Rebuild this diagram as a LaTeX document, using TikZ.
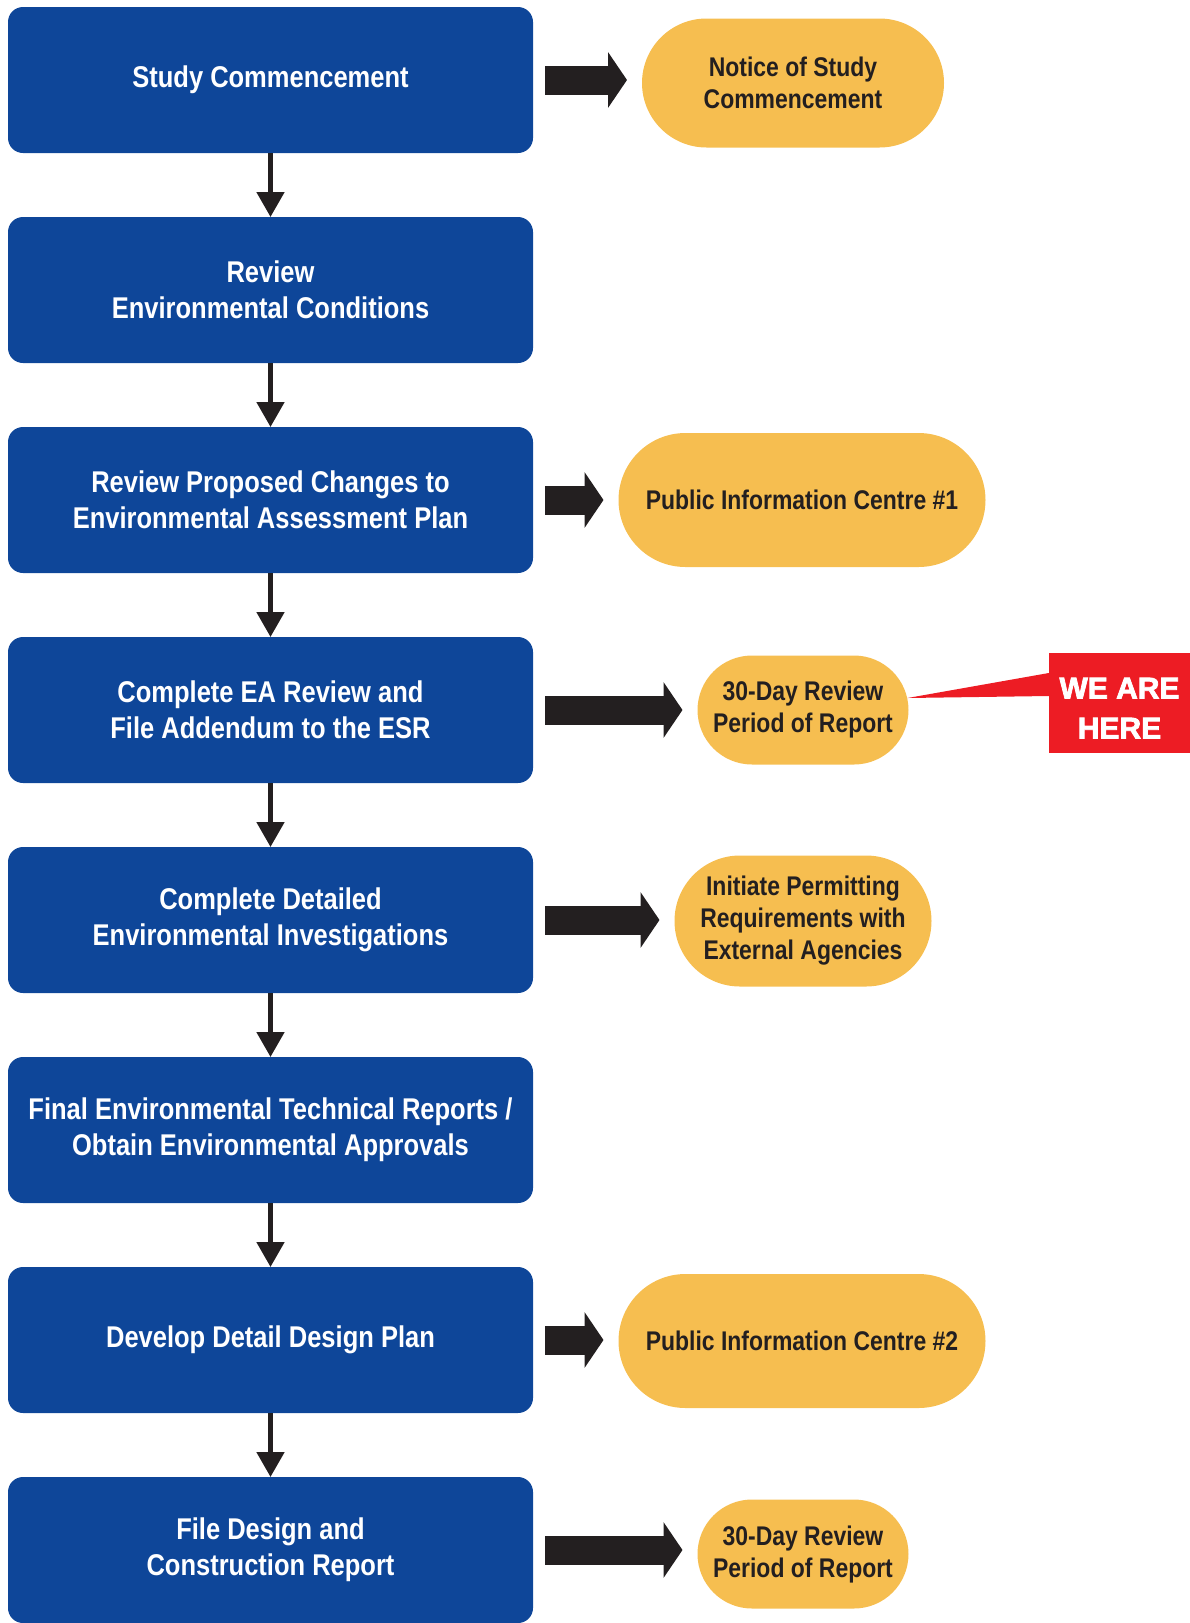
\documentclass[tikz,border=0pt]{standalone}
\usepackage{fontspec}
\setmainfont{Liberation Sans}[FakeStretch=0.85]
\newfontfamily\tagfont{Liberation Sans}[UprightFont={* Bold},FakeBold=2.5]
\usepackage{tikz}
\usetikzlibrary{arrows.meta,positioning,shapes.misc}
\definecolor{bluex}{HTML}{0E4699}
\definecolor{goldx}{HTML}{F6BE50}
\definecolor{inkx}{HTML}{231F20}
\definecolor{redx}{HTML}{ED1C24}
\tikzset{
  stepbox/.style={fill=bluex,rounded corners=15pt,minimum width=525pt,minimum height=146pt,align=center,text=white,outer sep=0pt,font=\fontsize{30}{36}\selectfont\bfseries},
  pill/.style={rounded rectangle,fill=goldx,align=center,text=inkx,inner sep=0pt,outer sep=0pt,font=\fontsize{27}{32}\selectfont\bfseries},
  dn/.style={-{Triangle[length=25pt,width=27pt]},line width=5pt,inkx},
  blk/.style={-{Triangle[length=19pt,width=55pt]},line width=29pt,inkx,shorten <=12pt,shorten >=15pt},
  tagbox/.style={fill=redx,text=white,align=center,minimum width=141pt,minimum height=100pt,inner sep=0pt,font=\tagfont\fontsize{30}{40}\selectfont}
}

\begin{document}
\begin{tikzpicture}[x=1pt,y=-1pt]
\useasboundingbox (0,0) rectangle (1190,1623);
% steps
\node[stepbox] (s1) at (270.5,80) {Study Commencement};
\node[stepbox] (s2) at (270.5,290) {Review\\Environmental Conditions};
\node[stepbox] (s3) at (270.5,500) {Review Proposed Changes to\\Environmental Assessment Plan};
\node[stepbox] (s4) at (270.5,710) {Complete EA Review and\\File Addendum to the ESR};
\node[stepbox] (s5) at (270.5,920) {Complete Detailed\\Environmental Investigations};
\node[stepbox] (s6) at (270.5,1130) {Final Environmental Technical Reports /\\Obtain Environmental Approvals};
\node[stepbox] (s7) at (270.5,1340) {Develop Detail Design Plan};
\node[stepbox] (s8) at (270.5,1550) {File Design and\\Construction Report};
\draw[dn] (s1) -- (s2);
\draw[dn] (s2) -- (s3);
\draw[dn] (s3) -- (s4);
\draw[dn] (s4) -- (s5);
\draw[dn] (s5) -- (s6);
\draw[dn] (s6) -- (s7);
\draw[dn] (s7) -- (s8);
% outputs
\node[pill,minimum width=302pt,minimum height=129pt] (n1) at (793,83) {Notice of Study\\Commencement};
\node[pill,minimum width=367pt,minimum height=134pt] (p1) at (802,500) {Public Information Centre \#1};
\node[pill,minimum width=211pt,minimum height=109pt] (d1) at (803,710) {30-Day Review\\Period of Report};
\node[pill,minimum width=257pt,minimum height=131pt] (i1) at (803,921) {Initiate Permitting\\Requirements with\\External Agencies};
\node[pill,minimum width=367pt,minimum height=134pt] (p2) at (802,1341) {Public Information Centre \#2};
\node[pill,minimum width=211pt,minimum height=109pt] (d2) at (803,1554) {30-Day Review\\Period of Report};
\draw[blk] (s1) -- (s1 -| n1.west);
\draw[blk] (s3) -- (p1);
\draw[blk] (s4) -- (d1);
\draw[blk] (s5) -- (s5 -| i1.west);
\draw[blk] (s7) -- (s7 -| p2.west);
\draw[blk] (s8) -- (s8 -| d2.west);
% marker
\node[tagbox] (wah) at (1119.5,703) {\rule{0pt}{31pt}WE ARE\\HERE};
\fill[redx] ([shift={(-1pt,12pt)}]d1.east) -- ([yshift=30pt]wah.west) -- ([yshift=7pt]wah.west) -- cycle;
\end{tikzpicture}
\end{document}
